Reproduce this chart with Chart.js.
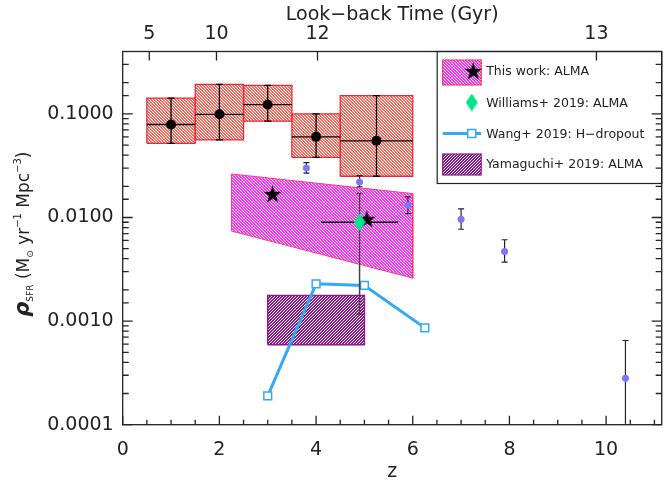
<!DOCTYPE html>
<html>
<head>
<meta charset="utf-8">
<script src="https://cdn.jsdelivr.net/npm/chart.js@4.4.1/dist/chart.umd.min.js"></script>
<style>
  html, body { margin: 0; padding: 0; background: #fff; }
  canvas { display: block; }
</style>
</head>
<body>
<canvas id="myChart" width="664" height="486"></canvas>
<script>
// binned SFRD from this work (red boxes)
const boxZ     = [1.0, 2.0, 3.0, 4.0, 5.25];
const boxZLo   = [0.5, 1.5, 2.5, 3.5, 4.5];
const boxZHi   = [1.5, 2.5, 3.5, 4.5, 6.0];
const boxRho   = [0.079, 0.099, 0.123, 0.060, 0.055];
const boxRhoLo = [0.052, 0.056, 0.085, 0.038, 0.025];
const boxRhoHi = [0.142, 0.193, 0.188, 0.100, 0.150];

// UV points (small purple dots)
const uvZ     = [3.8, 4.9, 5.9, 7.0, 7.9, 10.4];
const uvRho   = [0.0301, 0.0220, 0.0131, 0.0096, 0.0047, 0.00028];
const uvRhoLo = [0.0268, 0.0198, 0.0109, 0.0077, 0.0037, 0.0001];
const uvRhoHi = [0.0339, 0.0253, 0.0158, 0.0121, 0.0061, 0.00065];

// This work: ALMA (band + stars)
const thisZ      = [2.25, 6.0];
const thisTop    = [0.0263, 0.0170];
const thisBottom = [0.0074, 0.0026];
const starZ   = [3.1, 5.05];
const starRho = [0.0170, 0.0098];

// Williams+ 2019
const willZ = [4.9];
const willRho = [0.0090];
const willZLo = [4.1];
const willZHi = [5.7];
const willRhoLo = [0.00117];
const willRhoHi = [0.0170];

// Wang+ 2019 H-dropout
const wangZ   = [3.0, 4.0, 5.0, 6.25];
const wangRho = [0.00019, 0.00229, 0.00221, 0.00086];

// Yamaguchi+ 2019
const yamaZ   = [3.0, 5.0];
const yamaRho = [0.00059, 0.00177];

// axes
const lookbackZ      = [0.55, 1.94, 4.03, 9.8];
const lookbackLabels = ['5', '10', '12', '13'];
const seriesNames = ['This work: ALMA', 'Williams+ 2019: ALMA', 'Wang+ 2019: H\u2212dropout', 'Yamaguchi+ 2019: ALMA'];

const FONT = "'DejaVu Sans', sans-serif";
const INK = '#222';
const RED = '#e8283c';
const MAGENTA = '#ff2cff';
const PURPLE = '#8c1a8c';
const BLUE = '#35a8f4';
const GREEN = '#00e68a';
const UV = '#7b78ff';

const canvas = document.getElementById('myChart');
const ctx = canvas.getContext('2d');

// small diagonal hatch, 3px period
function hatch(color, flip) {
  const c = document.createElement('canvas');
  c.width = 3; c.height = 3;
  const g = c.getContext('2d');
  g.fillStyle = color;
  for (let y = 0; y < 3; y++) {
    for (let k = 0; k < 2; k++) {
      const x = flip ? (y + k) % 3 : (5 - y - k) % 3;
      g.fillRect(x, y, 1, 1);
    }
  }
  return ctx.createPattern(c, 'repeat');
}

function starImg(size, color) {
  const c = document.createElement('canvas');
  c.width = size; c.height = size;
  const g = c.getContext('2d');
  const R = size / 2, r = R * 0.4;
  g.fillStyle = color;
  g.beginPath();
  for (let i = 0; i < 10; i++) {
    const a = -Math.PI / 2 + i * Math.PI / 5;
    const rr = i % 2 ? r : R;
    g.lineTo(R + rr * Math.cos(a), R + 1.2 + rr * Math.sin(a));
  }
  g.closePath();
  g.fill();
  return c;
}

function diamondImg(w, h, color) {
  const c = document.createElement('canvas');
  c.width = w; c.height = h;
  const g = c.getContext('2d');
  g.fillStyle = color;
  g.beginPath();
  g.moveTo(w / 2, 0); g.lineTo(w, h / 2); g.lineTo(w / 2, h); g.lineTo(0, h / 2);
  g.closePath();
  g.fill();
  return c;
}

const redHatch = hatch('rgb(246,112,98)', true);
const magHatch = hatch(MAGENTA, true);
const purHatch = hatch('#8e1690', false);
const star = starImg(19, '#000');
const diamond = diamondImg(12, 18, GREEN);

const isDecade = v => Math.abs(Math.log10(v) - Math.round(Math.log10(v))) < 1e-6;
const noPad = sc => { sc.paddingLeft = 0; sc.paddingRight = 0; sc.paddingTop = 0; sc.paddingBottom = 0; };

const datasets = [];

// red boxes
boxZ.forEach((z, i) => {
  datasets.push({
    data: [
      {x: boxZLo[i], y: boxRhoLo[i]}, {x: boxZHi[i], y: boxRhoLo[i]},
      {x: boxZHi[i], y: boxRhoHi[i]}, {x: boxZLo[i], y: boxRhoHi[i]},
      {x: boxZLo[i], y: boxRhoLo[i]}
    ],
    showLine: true, fill: 'shape', tension: 0,
    borderColor: RED, borderWidth: 1.3, backgroundColor: redHatch,
    pointRadius: 0, order: 20
  });
});

// this work band
datasets.push({
  data: [
    {x: thisZ[0], y: thisTop[0]}, {x: thisZ[1], y: thisTop[1]},
    {x: thisZ[1], y: thisBottom[1]}, {x: thisZ[0], y: thisBottom[0]},
    {x: thisZ[0], y: thisTop[0]}
  ],
  showLine: true, fill: 'shape', tension: 0,
  borderColor: '#ff3a6a', borderWidth: 1, backgroundColor: magHatch,
  pointRadius: 0, order: 19
});

// Yamaguchi box
datasets.push({
  data: [
    {x: yamaZ[0], y: yamaRho[0]}, {x: yamaZ[1], y: yamaRho[0]},
    {x: yamaZ[1], y: yamaRho[1]}, {x: yamaZ[0], y: yamaRho[1]},
    {x: yamaZ[0], y: yamaRho[0]}
  ],
  showLine: true, fill: 'shape', tension: 0,
  borderColor: PURPLE, borderWidth: 1.5, backgroundColor: purHatch,
  pointRadius: 0, order: 18
});

// UV dots
datasets.push({
  data: uvZ.map((z, i) => ({x: z, y: uvRho[i]})),
  pointRadius: 3.5, pointBackgroundColor: UV, pointBorderWidth: 0,
  errBars: {yLo: uvRhoLo, yHi: uvRhoHi, color: INK, cap: 3, width: 1.2},
  order: 12
});

// Wang line
datasets.push({
  data: wangZ.map((z, i) => ({x: z, y: wangRho[i]})),
  showLine: true, borderColor: BLUE, borderWidth: 3,
  pointStyle: 'rect', pointRadius: 5.5, pointBorderColor: BLUE,
  pointBackgroundColor: '#fff', pointBorderWidth: 1.5,
  order: 10
});

// red box centres
datasets.push({
  data: boxZ.map((z, i) => ({x: z, y: boxRho[i]})),
  pointRadius: 5, pointBackgroundColor: '#000', pointBorderWidth: 0,
  errBars: {yLo: boxRhoLo, yHi: boxRhoHi, xLo: boxZLo, xHi: boxZHi, color: '#000', cap: 3.5, width: 1.3},
  order: 8
});

// stars
datasets.push({
  data: starZ.map((z, i) => ({x: z, y: starRho[i]})),
  pointStyle: star, pointRadius: 10,
  order: 6
});

// Williams
datasets.push({
  data: willZ.map((z, i) => ({x: z, y: willRho[i]})),
  pointStyle: diamond, pointRadius: 10,
  errBars: {yLo: willRhoLo, yHi: willRhoHi, xLo: willZLo, xHi: willZHi, color: '#444', xColor: '#000', cap: 3, width: 1.5},
  order: 4
});

// error bars drawn just before their dataset
const errorBars = {
  id: 'errorBars',
  beforeDatasetDraw(chart, args) {
    const ds = chart.data.datasets[args.index];
    const e = ds.errBars;
    if (!e) return;
    const {x, y} = chart.scales;
    const c = chart.ctx;
    c.save();
    c.beginPath();
    c.rect(chart.chartArea.left, chart.chartArea.top, chart.chartArea.width, chart.chartArea.height);
    c.clip();
    c.lineWidth = e.width;
    ds.data.forEach((p, i) => {
      const px = x.getPixelForValue(p.x);
      const py = y.getPixelForValue(p.y);
      if (e.xLo) {
        c.strokeStyle = e.xColor || e.color;
        c.beginPath();
        c.moveTo(x.getPixelForValue(e.xLo[i]), py);
        c.lineTo(x.getPixelForValue(e.xHi[i]), py);
        c.stroke();
      }
      const y0 = y.getPixelForValue(e.yLo[i]);
      const y1 = y.getPixelForValue(e.yHi[i]);
      c.strokeStyle = e.color;
      c.beginPath();
      c.moveTo(px, y0); c.lineTo(px, y1);
      c.moveTo(px - e.cap, y0); c.lineTo(px + e.cap, y0);
      c.moveTo(px - e.cap, y1); c.lineTo(px + e.cap, y1);
      c.stroke();
    });
    c.restore();
  }
};

function drawLegend(c, a) {
  const L = a.right - 224.5, T = a.top, B = a.top + 132;
  c.fillStyle = '#fff';
  c.fillRect(L, T, a.right - L, B - T);
  c.strokeStyle = INK; c.lineWidth = 1.2;
  c.strokeRect(L, T, a.right - L, B - T);

  const sx = L + 5.5, sw = 38.5, tx = L + 49;
  const rows = [T + 19.5, T + 51, T + 82, T + 112.5];

  // this work
  c.fillStyle = magHatch; c.fillRect(sx, rows[0] - 11, sw, 25);
  c.strokeStyle = RED; c.lineWidth = 1; c.strokeRect(sx, rows[0] - 11, sw, 25);
  c.drawImage(star, sx + 31 - 10, rows[0] - 10);
  // williams
  c.drawImage(diamond, sx + 29 - 6, rows[1] - 9);
  // wang
  c.strokeStyle = BLUE; c.lineWidth = 3;
  c.beginPath(); c.moveTo(sx, rows[2]); c.lineTo(sx + sw, rows[2]); c.stroke();
  c.fillStyle = '#fff'; c.lineWidth = 1.5;
  c.fillRect(sx + 25, rows[2] - 4, 8, 8); c.strokeRect(sx + 25, rows[2] - 4, 8, 8);
  // yamaguchi
  c.fillStyle = purHatch; c.fillRect(sx, rows[3] - 10, sw, 21);
  c.strokeStyle = PURPLE; c.lineWidth = 1.2; c.strokeRect(sx, rows[3] - 10, sw, 21);

  c.fillStyle = INK;
  c.font = "12.5px " + FONT;
  c.textBaseline = 'middle';
  c.textAlign = 'left';
  seriesNames.forEach((s, i) => c.fillText(s, tx, rows[i] + 1));
}

function drawYTitle(c, a) {
  const parts = [
    {t: '\u03c1', f: "italic bold 21px " + FONT, dy: 0},
    {t: 'SFR', f: "9px " + FONT, dy: 4},
    {t: ' (M', f: "17px " + FONT, dy: 0},
    {t: '\u2299', f: "9px " + FONT, dy: 4},
    {t: ' yr', f: "17px " + FONT, dy: 0},
    {t: '\u22121', f: "10px " + FONT, dy: -8},
    {t: ' Mpc', f: "17px " + FONT, dy: 0},
    {t: '\u22123', f: "10px " + FONT, dy: -8},
    {t: ')', f: "17px " + FONT, dy: 0}
  ];
  let total = 0;
  parts.forEach(p => { c.font = p.f; p.w = c.measureText(p.t).width; total += p.w; });
  c.save();
  c.translate(23, (a.top + a.bottom) / 2 - 4);
  c.rotate(-Math.PI / 2);
  c.fillStyle = INK;
  c.textBaseline = 'alphabetic';
  c.textAlign = 'left';
  let xx = -total / 2;
  parts.forEach(p => { c.font = p.f; c.fillText(p.t, xx, 6 + p.dy); xx += p.w; });
  c.restore();
}

const frameTicks = {
  id: 'frameTicks',
  afterDraw(chart) {
    const c = chart.ctx, a = chart.chartArea, s = chart.scales;
    c.save();
    drawLegend(c, a);
    c.strokeStyle = INK; c.lineWidth = 1.3;
    c.strokeRect(a.left, a.top, a.right - a.left, a.bottom - a.top);
    c.beginPath();
    s.x.ticks.forEach(t => {
      const px = s.x.getPixelForValue(t.value);
      const len = Math.abs(t.value % 2) < 1e-6 ? 9 : 5;
      c.moveTo(px, a.bottom); c.lineTo(px, a.bottom - len);
    });
    s.x2.ticks.forEach(t => {
      const px = s.x2.getPixelForValue(t.value);
      c.moveTo(px, a.top); c.lineTo(px, a.top + 9);
    });
    s.y.ticks.forEach(t => {
      if (t.value >= s.y.max) return;
      const py = s.y.getPixelForValue(t.value);
      const len = isDecade(t.value) ? 10 : 6;
      c.moveTo(a.left, py); c.lineTo(a.left + len, py);
      c.moveTo(a.right, py); c.lineTo(a.right - len, py);
    });
    c.stroke();
    drawYTitle(c, a);
    c.restore();
  }
};

const tickFont = {family: FONT, size: 19};

new Chart(ctx, {
  type: 'scatter',
  data: {datasets},
  options: {
    responsive: false,
    animation: false,
    events: [],
    layout: {autoPadding: false, padding: {left: 0, right: 2.3, top: 0, bottom: 0}},
    plugins: {legend: {display: false}, tooltip: {enabled: false}},
    scales: {
      x: {
        type: 'linear', position: 'bottom', min: 0, max: 11.15,
        grid: {display: false, drawTicks: false}, border: {display: false},
        ticks: {
          stepSize: 0.5, includeBounds: false, autoSkip: false, maxRotation: 0,
          padding: 14, color: INK, font: tickFont,
          callback: v => Math.abs(v % 2) < 1e-6 ? String(v) : ''
        },
        title: {display: true, text: 'z', color: INK, font: tickFont, padding: {top: 0, bottom: 3}},
        afterFit: sc => { noPad(sc); sc.height = 61.3; }
      },
      x2: {
        type: 'linear', position: 'top', min: 0, max: 11.15,
        grid: {display: false, drawTicks: false}, border: {display: false},
        afterBuildTicks: sc => { sc.ticks = lookbackZ.map(v => ({value: v})); },
        ticks: {
          autoSkip: false, maxRotation: 0, padding: 6, color: INK, font: tickFont,
          callback: (v, i) => lookbackLabels[i]
        },
        title: {display: true, text: 'Look\u2212back Time (Gyr)', color: INK, font: tickFont, padding: {top: 4, bottom: 0}},
        afterFit: sc => { noPad(sc); sc.height = 51.5; }
      },
      y: {
        type: 'logarithmic', min: 0.0001, max: 0.4,
        grid: {display: false, drawTicks: false}, border: {display: false},
        ticks: {
          autoSkip: false, padding: 9, color: INK, font: tickFont,
          callback: v => isDecade(v) ? Number(v).toFixed(4) : ''
        },
        afterFit: sc => { noPad(sc); sc.width = 122.7; }
      }
    }
  },
  plugins: [errorBars, frameTicks]
});
</script>
</body>
</html>
